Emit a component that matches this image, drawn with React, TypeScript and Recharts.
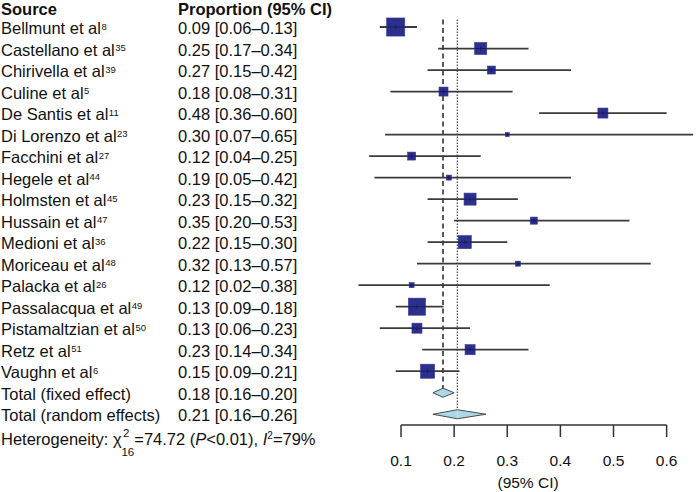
import React from 'react';
import { ScatterChart, Scatter, XAxis, YAxis, ErrorBar, ReferenceLine, ReferenceArea } from 'recharts';

const studies = [
  'Bellmunt et al', 'Castellano et al', 'Chirivella et al', 'Culine et al', 'De Santis et al',
  'Di Lorenzo et al', 'Facchini et al', 'Hegele et al', 'Holmsten et al', 'Hussain et al',
  'Medioni et al', 'Moriceau et al', 'Palacka et al', 'Passalacqua et al', 'Pistamaltzian et al',
  'Retz et al', 'Vaughn et al',
];
const refNums = ['8', '35', '39', '5', '11', '23', '27', '44', '45', '47', '36', '48', '26', '49', '50', '51', '6'];
const estimates = [0.09, 0.25, 0.27, 0.18, 0.48, 0.30, 0.12, 0.19, 0.23, 0.35, 0.22, 0.32, 0.12, 0.13, 0.13, 0.23, 0.15];
const lower = [0.06, 0.17, 0.15, 0.08, 0.36, 0.07, 0.04, 0.05, 0.15, 0.20, 0.15, 0.13, 0.02, 0.09, 0.06, 0.14, 0.09];
const upper = [0.13, 0.34, 0.42, 0.31, 0.60, 0.65, 0.25, 0.42, 0.32, 0.53, 0.30, 0.57, 0.38, 0.18, 0.23, 0.34, 0.21];
// study weights (%), box area is proportional to these
const weights = [16.9, 7.5, 3.3, 4.2, 5.2, 0.8, 3.3, 1.3, 7.5, 2.6, 8.8, 1.3, 1.3, 15.1, 5.2, 5.2, 10.2];

const pooledLabels = ['Total (fixed effect)', 'Total (random effects)'];
const pooledEst = [0.179, 0.206];
const pooledLow = [0.16, 0.16];
const pooledHigh = [0.20, 0.26];

const xTicks = [0.1, 0.2, 0.3, 0.4, 0.5, 0.6];

const FONT = '"Liberation Sans", Arial, Helvetica, sans-serif';
const W = 696;
const H = 492;

const fmt = (v: number) => v.toFixed(2);

const studyData = studies.map((name, i) => ({
  name,
  row: i,
  est: estimates[i],
  err: [estimates[i] - lower[i], upper[i] - estimates[i]],
  w: weights[i],
}));

function StudyBox(props: any) {
  const { cx, cy, payload } = props;
  if (cx == null || cy == null) return null;
  const s = 4.4 * Math.sqrt(payload.w);
  return (
    <g>
      <rect x={cx - s / 2} y={cy - s / 2} width={s} height={s} fill="#2d2f8c" stroke="#34369a" strokeWidth={0.6} />
      <line x1={cx - s / 2} x2={cx + s / 2} y1={cy} y2={cy} stroke="#1b1b5a" strokeWidth={1} />
      <line x1={cx} x2={cx} y1={cy - 2} y2={cy + 2} stroke="#1b1b5a" strokeWidth={1} />
    </g>
  );
}

// half of a summary diamond; side tells which point lies on the outer edge
function halfDiamond(side: 'left' | 'right') {
  return (props: any) => {
    const { x, y, width, height } = props;
    const x0 = width < 0 ? x + width : x;
    const y0 = height < 0 ? y + height : y;
    const w = Math.abs(width);
    const h = Math.abs(height);
    const mid = y0 + h / 2;
    const tip = side === 'left' ? x0 : x0 + w;
    const inner = side === 'left' ? x0 + w : x0;
    return (
      <g>
        <polygon points={`${tip},${mid} ${inner},${y0} ${inner},${y0 + h}`} fill="#abd9e8" stroke="none" />
        <polyline points={`${inner},${y0} ${tip},${mid} ${inner},${y0 + h}`} fill="none" stroke="#4a4a4a" strokeWidth={1} />
      </g>
    );
  };
}

function XTick({ x, y, payload }: any) {
  return (
    <text x={x} y={y} dy={27} textAnchor="middle" fontSize={15.5} fontFamily={FONT} fill="#111">
      {String(payload.value)}
    </text>
  );
}

function AxisTitle({ viewBox }: any) {
  const cx = viewBox.x + viewBox.width / 2 + 7.5;
  return (
    <text x={cx} y={viewBox.y + 63} textAnchor="middle" fontSize={15.5} fontFamily={FONT} fill="#111">
      (95% CI)
    </text>
  );
}

function LeftColumns() {
  const base = (i: number) => 34 + 21.5 * i;
  const n = studies.length;
  return (
    <svg width={W} height={H} style={{ position: 'absolute', left: 0, top: 0 }} fontFamily={FONT} fontSize={16.5} fill="#111">
      <text x={1} y={15} fontWeight="bold">Source</text>
      <text x={178} y={15} fontWeight="bold">Proportion (95% CI)</text>
      {studies.map((s, i) => (
        <g key={`row-${s}`}>
          <text x={1} y={base(i)}>
            {s}
            <tspan fontSize={9.5} dy={-4.5} dx={0.5}>{refNums[i]}</tspan>
          </text>
          <text x={178} y={base(i)}>{`${fmt(estimates[i])} [${fmt(lower[i])}–${fmt(upper[i])}]`}</text>
        </g>
      ))}
      {pooledLabels.map((s, j) => (
        <g key={`pool-${s}`}>
          <text x={1} y={base(n + j)}>{s}</text>
          <text x={178} y={base(n + j)}>{`${fmt(pooledEst[j])} [${fmt(pooledLow[j])}–${fmt(pooledHigh[j])}]`}</text>
        </g>
      ))}
      <text x={1} y={base(n + 2) + 2.5}>
        Heterogeneity: χ
        <tspan fontSize={11.5} dx={1.5} dy={-8}>2</tspan>
        <tspan fontSize={11.5} dx={-8} dy={19}>16</tspan>
        <tspan dy={-11}>=74.72 (</tspan>
        <tspan fontStyle="italic">P</tspan>
        <tspan>{'<0.01), '}</tspan>
        <tspan fontStyle="italic">I</tspan>
        <tspan fontSize={10} dy={-6}>2</tspan>
        <tspan dy={6}>=79%</tspan>
      </text>
    </svg>
  );
}

export default function App() {
  const nRows = studies.length;
  const halfH = 0.21;
  return (
    <div style={{ position: 'absolute', left: 0, top: 0, width: W, height: H, background: '#fff' }}>
      <LeftColumns />
      <div style={{ position: 'absolute', left: 0, top: 0 }}>
        <ScatterChart width={W} height={H} margin={{ top: 5.5, right: 2.8, bottom: 0, left: 347.9 }}>
          <XAxis
            type="number"
            dataKey="est"
            domain={[0, 0.65]}
            ticks={xTicks}
            axisLine={false}
            tickSize={12}
            tickLine={{ stroke: '#333', strokeWidth: 1.5 }}
            tick={<XTick />}
            height={67}
            label={{ content: <AxisTitle /> }}
          />
          <YAxis type="number" dataKey="row" domain={[-1, nRows + 1.5]} reversed hide />
          <ReferenceLine
            segment={[{ x: 0.1, y: nRows + 1.5 }, { x: 0.6, y: nRows + 1.5 }]}
            stroke="#333"
            strokeWidth={1.5}
            ifOverflow="visible"
          />
          <ReferenceLine
            segment={[{ x: pooledEst[0], y: -0.35 }, { x: pooledEst[0], y: nRows - halfH }]}
            stroke="#222"
            strokeWidth={1.5}
            strokeDasharray="5 3.5"
            ifOverflow="visible"
          />
          <ReferenceLine
            segment={[{ x: pooledEst[1], y: -0.35 }, { x: pooledEst[1], y: nRows + 1 - halfH }]}
            stroke="#555"
            strokeWidth={1.3}
            strokeDasharray="1.5 1.5"
            ifOverflow="visible"
          />
          {pooledEst.map((e, j) => (
            <ReferenceArea
              key={`dl-${j}`}
              x1={pooledLow[j]}
              x2={e}
              y1={nRows + j - halfH}
              y2={nRows + j + halfH}
              shape={halfDiamond('left')}
              ifOverflow="visible"
            />
          ))}
          {pooledEst.map((e, j) => (
            <ReferenceArea
              key={`dr-${j}`}
              x1={e}
              x2={pooledHigh[j]}
              y1={nRows + j - halfH}
              y2={nRows + j + halfH}
              shape={halfDiamond('right')}
              ifOverflow="visible"
            />
          ))}
          <Scatter data={studyData} shape={<StudyBox />} isAnimationActive={false}>
            <ErrorBar dataKey="err" direction="x" width={0} stroke="#3a3a3a" strokeWidth={1.8} isAnimationActive={false} />
          </Scatter>
        </ScatterChart>
      </div>
    </div>
  );
}
